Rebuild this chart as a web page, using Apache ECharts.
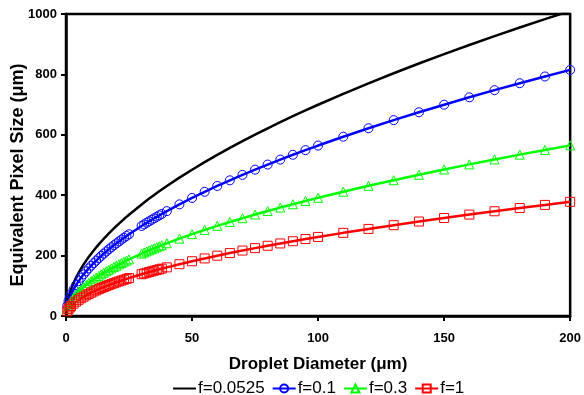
<!DOCTYPE html>
<html>
<head>
<meta charset="utf-8">
<script src="https://cdn.jsdelivr.net/npm/echarts@6/dist/echarts.min.js"></script>
<style>
html,body{margin:0;padding:0;background:#fff;}
#chart{width:584px;height:395px;}
</style>
</head>
<body>
<div id="chart"></div>
<script>
// Droplet diameter (µm)
const diameters = [0.5,1,1.5,2,3,4,5,6,7,8,9,10,11,12,13,14,15,16,17,18,19,20,21,22,23,24,25,
  30,31,32,33,34,35,36,37,38,40,45,50,55,60,65,70,75,80,85,90,95,100,
  110,120,130,140,150,160,170,180,190,200];

// Equivalent pixel size (µm)
const f00525 = [42.2,60.9,75.5,88.0,109.1,127.0,143.0,157.5,170.9,183.4,195.2,206.4,217.1,227.4,237.2,246.7,255.9,264.8,273.5,281.9,290.1,298.1,305.9,313.5,321.0,328.3,335.5,
  369.5,376.0,382.4,388.7,394.9,401.0,407.0,413.0,418.9,430.4,458.1,484.4,509.5,533.6,556.7,579.0,600.6,621.5,641.8,661.5,680.7,699.5,
  735.7,770.4,803.8,836.0,867.2,897.3,926.6,955.2,982.9,1010];
const f01 = [34.0,49.2,60.9,71.0,88.0,102.5,115.4,127.1,137.9,148.0,157.5,166.6,175.2,183.5,191.4,199.1,206.5,213.7,220.7,227.5,234.1,240.5,246.8,253.0,259.0,264.9,270.7,
  298.2,303.4,308.6,313.6,318.6,323.6,328.4,333.2,338.0,347.3,369.7,390.9,411.2,430.6,449.2,467.2,484.6,501.5,517.9,533.8,549.3,564.4,
  593.7,621.7,648.6,674.6,699.7,724.1,747.8,770.7,793.1,815];
const f03 = [23.6,34.1,42.3,49.2,61.0,71.1,80.0,88.1,95.6,102.6,109.2,115.5,121.5,127.2,132.7,138.0,143.2,148.1,153.0,157.7,162.3,166.7,171.1,175.4,179.6,183.7,187.7,
  206.7,210.3,213.9,217.4,220.9,224.3,227.7,231.0,234.3,240.8,256.3,271.0,285.0,298.5,311.4,323.9,336.0,347.6,359.0,370.0,380.8,391.3,
  411.6,431.0,449.7,467.7,485.1,502.0,518.4,534.3,549.9,565];
const f1 = [15.8,22.8,28.3,32.9,40.8,47.5,53.5,58.9,64.0,68.6,73.1,77.3,81.3,85.1,88.8,92.3,95.8,99.1,102.4,105.5,108.6,111.6,114.5,117.3,120.1,122.9,125.6,
  138.3,140.7,143.1,145.5,147.8,150.1,152.3,154.6,156.8,161.1,171.5,181.3,190.7,199.7,208.3,216.7,224.8,232.6,240.2,247.6,254.8,261.8,
  275.3,288.3,300.8,312.9,324.5,335.8,346.8,357.5,367.9,378];

const seriesNames = ['f=0.0525','f=0.1','f=0.3','f=1'];
const xTicks = [0,50,100,150,200];
const yTicks = [0,200,400,600,800,1000];

const pairs = ys => diameters.map((x,i) => [x, ys[i]]);

const chart = echarts.init(document.getElementById('chart'), null, {renderer:'canvas'});
const FONT = '"Liberation Sans", Arial, sans-serif';
const CLEAR = 'rgba(255,255,255,0)';

const mk = (name, ys, color, symbol, markerColor) => ({
  name: name,
  type: 'line',
  data: pairs(ys),
  symbol: symbol,
  symbolSize: 9,
  showAllSymbol: true,
  lineStyle: {color: color, width: 2.5},
  itemStyle: {color: CLEAR, borderColor: markerColor, borderWidth: 1},
  emphasis: {disabled: true},
  animation: false,
  clip: true
});

chart.setOption({
  animation: false,
  backgroundColor: '#fff',
  grid: {left: 66, right: 13, top: 14, bottom: 79, show: true, borderColor: '#000', borderWidth: 2.5, backgroundColor: 'transparent'},
  legend: {
    data: seriesNames,
    left: 167,
    top: 375,
    itemWidth: 23,
    itemHeight: 10,
    itemGap: 7,
    textStyle: {fontFamily: FONT, fontSize: 17, color: '#000', padding: [0,0,0,-3]}
  },
  xAxis: {
    type: 'value',
    min: xTicks[0], max: xTicks[xTicks.length-1], interval: xTicks[1]-xTicks[0],
    name: 'Droplet Diameter (μm)',
    nameLocation: 'middle',
    nameGap: 40,
    nameTextStyle: {fontFamily: FONT, fontSize: 17, fontWeight: 'bold', color: '#000'},
    axisLine: {show: true, lineStyle: {color: '#000', width: 2.5}},
    axisTick: {show: true, length: 5, lineStyle: {color: '#000', width: 2}},
    axisLabel: {fontFamily: FONT, fontSize: 13, fontWeight: 'bold', color: '#000', margin: 16},
    splitLine: {show: false}
  },
  yAxis: {
    type: 'value',
    min: yTicks[0], max: yTicks[yTicks.length-1], interval: yTicks[1]-yTicks[0],
    axisLine: {show: true, lineStyle: {color: '#000', width: 2.5}},
    axisTick: {show: true, length: 5, lineStyle: {color: '#000', width: 2}},
    axisLabel: {fontFamily: FONT, fontSize: 13, fontWeight: 'bold', color: '#000', margin: 9,
      formatter: v => String(v)},
    splitLine: {show: false}
  },
  graphic: [{
    type: 'text',
    x: 18, y: 175,
    rotation: Math.PI/2,
    style: {
      text: 'Equivalent Pixel Size (μm)',
      fontFamily: FONT, fontSize: 18, fontWeight: 'bold', fill: '#000',
      align: 'center', verticalAlign: 'middle'
    }
  }],
  series: [
    mk(seriesNames[0], f00525, '#000000', 'none', CLEAR),
    mk(seriesNames[1], f01, '#0000FF', 'circle', '#0000FF'),
    mk(seriesNames[2], f03, '#00FF00', 'triangle', '#00FF00'),
    mk(seriesNames[3], f1, '#FF0000', 'rect', '#FF0000')
  ]
});
</script>
</body>
</html>
